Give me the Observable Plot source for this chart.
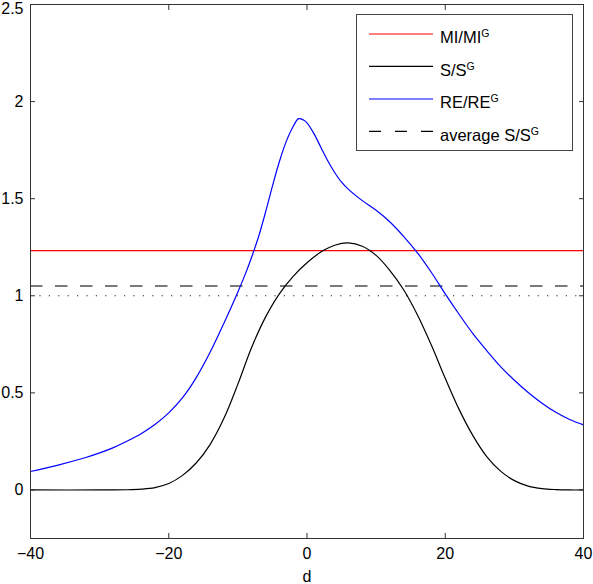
<!DOCTYPE html>
<html>
<head>
<meta charset="utf-8">
<script src="https://cdn.jsdelivr.net/npm/d3@7"></script>
<script src="https://cdn.jsdelivr.net/npm/@observablehq/plot@0.6"></script>
<style>
  html, body { margin: 0; padding: 0; background: #fff; }
  #wrap { position: relative; width: 593px; height: 584px; font-family: "Liberation Sans", Arial, sans-serif; }
  #legend { position: absolute; left: 356px; top: 14px; }
</style>
</head>
<body>
<div id="wrap"><div id="chart"></div><div id="legend"></div></div>
<script>
// ---- data ----
const reD = [-40, -36, -32, -28, -26, -24, -22, -20, -18, -16, -14, -12, -10, -9, -8, -7, -6, -5, -4, -3, -2, -1.2, -0.5, 0, 1, 2, 3, 4, 5, 6, 8, 10, 12, 14, 16, 18, 20, 22, 24, 26, 28, 30, 32, 34, 36, 38, 40];
const reVal = [0.095, 0.128, 0.167, 0.218, 0.252, 0.29, 0.337, 0.397, 0.475, 0.58, 0.71, 0.86, 1.02, 1.105, 1.2, 1.305, 1.43, 1.565, 1.69, 1.795, 1.872, 1.912, 1.905, 1.89, 1.835, 1.765, 1.695, 1.635, 1.585, 1.548, 1.49, 1.44, 1.38, 1.305, 1.22, 1.12, 1.01, 0.905, 0.805, 0.718, 0.635, 0.565, 0.502, 0.447, 0.4, 0.363, 0.335];

const sD = [-40, -30, -26, -24, -22, -20, -18, -16, -14, -12, -10, -8, -6, -4, -2, 0, 2, 4, 6, 8, 10, 12, 14, 16, 18, 20, 22, 24, 26, 28, 30, 32, 34, 36, 38, 40];
const sVal = [0, 0, 0.001, 0.004, 0.012, 0.033, 0.075, 0.14, 0.235, 0.37, 0.545, 0.735, 0.89, 1.01, 1.1, 1.17, 1.225, 1.26, 1.272, 1.255, 1.208, 1.13, 1.03, 0.9, 0.745, 0.575, 0.415, 0.28, 0.172, 0.097, 0.048, 0.02, 0.007, 0.002, 0, 0];

const miRatio = 1.232;      // MI/MI^G (constant)
const avgSRatio = 1.05;     // average S/S^G
const refLevel = 1;         // dotted reference

const xTicks = [-40, -20, 0, 20, 40];
const yTicks = [0, 0.5, 1, 1.5, 2];
const yTopTick = [2.5];
const xLabel = "d";
const legendMain = ["MI/MI", "S/S", "RE/RE", "average S/S"];
const legendSup = ["G", "G", "G", "G"];
const legendColors = ["#ff0000", "#000000", "#0000ff", "#000000"];
const legendDash = [null, null, null, "12,14"];

// ---- build tables ----
const reData = reD.map((d, i) => ({d, v: reVal[i]}));
const sData = sD.map((d, i) => ({d, v: sVal[i]}));
const fmtX = v => v < 0 ? "\u2212" + (-v) : String(v);
const allY = yTicks.concat(yTopTick);

const chart = Plot.plot({
  width: 593,
  height: 584,
  marginLeft: 30,
  marginRight: 10,
  marginTop: 4,
  marginBottom: 46,
  style: {fontFamily: "'Liberation Sans', Arial, sans-serif", fontSize: "16px", color: "#000", background: "#fff"},
  x: {domain: [-40, 40]},
  y: {domain: [-0.25, 2.5]},
  marks: [
    Plot.ruleY([refLevel], {stroke: "#222", strokeWidth: 1.2, strokeDasharray: "1.2,8.2"}),
    Plot.ruleY([avgSRatio], {stroke: "#7a7a7a", strokeWidth: 2, strokeDasharray: "12.5,12.5"}),
    Plot.ruleY([miRatio], {stroke: "#ff0000", strokeWidth: 1.2}),
    Plot.line(sData, {x: "d", y: "v", stroke: "#000", strokeWidth: 1.2, curve: "catmull-rom"}),
    Plot.line(reData, {x: "d", y: "v", stroke: "#0000ff", strokeWidth: 1.2, curve: "catmull-rom"}),
    Plot.frame({stroke: "#333", strokeWidth: 1}),
    // inward ticks on all four sides
    Plot.axisX({anchor: "bottom", ticks: xTicks, tickSize: 5, dy: -5, fill: "none", label: null, stroke: "#333"}),
    Plot.axisX({anchor: "top", ticks: xTicks, tickSize: 5, dy: 5, fill: "none", label: null, stroke: "#333"}),
    Plot.axisY({anchor: "left", ticks: allY, tickSize: 5, dx: 5, fill: "none", label: null, stroke: "#333"}),
    Plot.axisY({anchor: "right", ticks: allY, tickSize: 5, dx: -5, fill: "none", label: null, stroke: "#333"}),
    // labels
    Plot.axisX({anchor: "bottom", ticks: xTicks, tickSize: 0, tickPadding: 9, tickFormat: fmtX,
      label: xLabel, labelAnchor: "center", labelArrow: "none", labelOffset: 43, fill: "#000"}),
    Plot.axisY({anchor: "left", ticks: yTicks, tickSize: 0, tickPadding: 7, tickFormat: v => String(v),
      label: null, fill: "#000"}),
    Plot.axisY({anchor: "left", ticks: yTopTick, tickSize: 0, tickPadding: 7, tickFormat: v => String(v),
      label: null, fill: "#000", dy: 4})
  ]
});
document.getElementById("chart").appendChild(chart);

// ---- legend box ----
const lw = 217, lh = 137;
const rowY = [20, 52.4, 85, 117.4];
const svgNS = "http://www.w3.org/2000/svg";
const leg = document.createElementNS(svgNS, "svg");
leg.setAttribute("width", lw);
leg.setAttribute("height", lh);
leg.style.fontFamily = "'Liberation Sans', Arial, sans-serif";
const box = document.createElementNS(svgNS, "rect");
box.setAttribute("x", 0.5); box.setAttribute("y", 0.5);
box.setAttribute("width", lw - 1); box.setAttribute("height", lh - 1);
box.setAttribute("fill", "#fff"); box.setAttribute("stroke", "#444");
leg.appendChild(box);
legendMain.forEach((t, i) => {
  const ln = document.createElementNS(svgNS, "line");
  ln.setAttribute("x1", 13); ln.setAttribute("x2", 77);
  ln.setAttribute("y1", rowY[i]); ln.setAttribute("y2", rowY[i]);
  ln.setAttribute("stroke", legendColors[i]);
  ln.setAttribute("stroke-width", 1.2);
  if (legendDash[i]) ln.setAttribute("stroke-dasharray", legendDash[i]);
  leg.appendChild(ln);
  const tx = document.createElementNS(svgNS, "text");
  tx.setAttribute("x", 84); tx.setAttribute("y", rowY[i] + 9.2);
  tx.setAttribute("font-size", "16.5px");
  tx.setAttribute("fill", "#000");
  tx.appendChild(document.createTextNode(t));
  const sup = document.createElementNS(svgNS, "tspan");
  sup.setAttribute("dy", "-6");
  sup.setAttribute("font-size", "10.5px");
  sup.textContent = legendSup[i];
  tx.appendChild(sup);
  leg.appendChild(tx);
});
document.getElementById("legend").appendChild(leg);
</script>
</body>
</html>
